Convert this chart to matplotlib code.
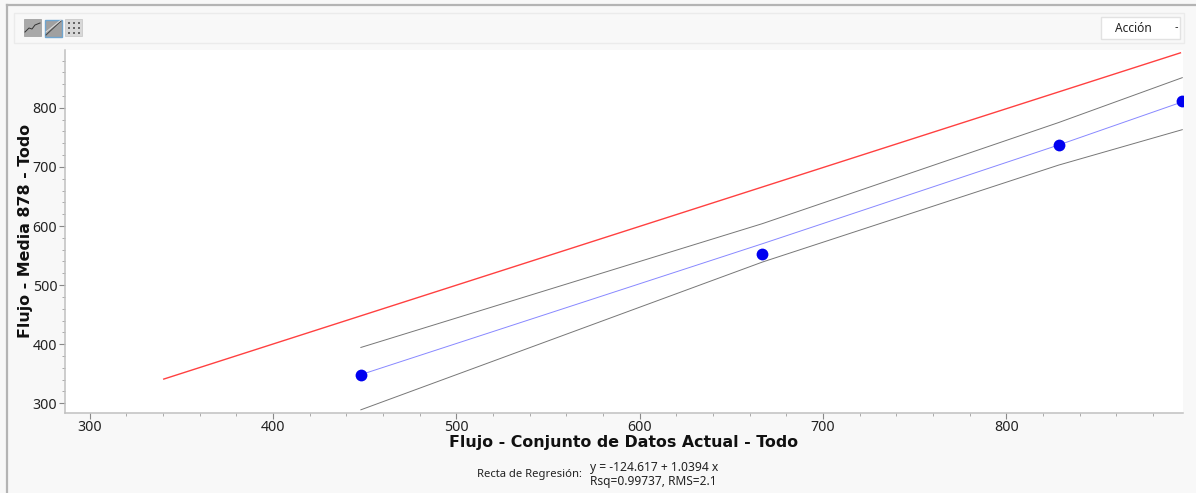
import matplotlib
matplotlib.use('Agg')
import matplotlib.pyplot as plt
from matplotlib.patches import Rectangle

W, H = 1196, 493

# data
puntos_x = [448, 667, 828.5, 896]
puntos_y = [348.5, 553, 737, 812]
recta_x = [448, 667, 828.5, 896]
recta_y = [348.5, 570, 737, 810]
ref_x = [340.5, 895]
ref_y = [341, 893]
sup_x = [448, 667, 828.5, 896]
sup_y = [394.5, 604, 775, 851]
inf_x = [448, 667, 828.5, 896]
inf_y = [289, 539, 703, 763]
xticks = [300, 400, 500, 600, 700, 800]
yticks = [300, 400, 500, 600, 700, 800]
xminor = [x for x in range(300, 900, 20) if x % 100]
yminor = [y for y in range(300, 900, 20) if y % 100]

fig = plt.figure(figsize=(W / 100, H / 100), dpi=100, facecolor='#f8f8f8')

# marco y barra de herramientas, en pixeles
bg = fig.add_axes([0, 0, 1, 1])
bg.set_xlim(0, W)
bg.set_ylim(H, 0)
bg.axis('off')
bg.plot([6.5, 6.5], [5, H], color='#b4b4b4', lw=1.6)
bg.plot([6.5, W], [5, 5], color='#b4b4b4', lw=1.6)
bg.add_patch(Rectangle((13.5, 12.5), 1170, 30, fc='#f8f8f8', ec='#ebebeb', lw=1))
bg.add_patch(Rectangle((24, 19), 17, 17, fc='#a8a8a8', ec='#999999', lw=0.5))
bg.plot([25, 29, 32, 35, 40], [32, 28, 29, 25, 23], color='#333333', lw=0.7)
bg.add_patch(Rectangle((45, 19.5), 17, 17, fc='#a0a0a0', ec='#6fa5cf', lw=1))
bg.plot([46, 61], [35, 21], color='#444444', lw=0.7)
bg.plot([46, 61], [32, 20], color='#dddddd', lw=0.7)
bg.add_patch(Rectangle((65, 19), 17, 17, fc='#d8d8d8', ec='#c4c4c4', lw=0.5))
for fila in [23, 28, 33]:
    for col in [69, 74, 79]:
        bg.add_patch(Rectangle((col - 1, fila - 1), 2, 2, fc='#666666', ec='none'))
bg.add_patch(Rectangle((1101, 16.5), 79, 22, fc='white', ec='#e2e2e2', lw=1))
bg.text(1133.5, 28, 'Acción', ha='center', va='center', fontsize=8.6,
        family='Noto Sans', color='#222222')
bg.text(1176, 27, '-', ha='center', va='center', fontsize=7, color='#222222')
bg.add_patch(Rectangle((65, 50), 1118, 363, fc='white', ec='none'))

# grafica
x0 = 300 - (89.5 - 65) / 1.8335
x1 = x0 + (1183 - 65) / 1.8335
y0 = 283.6
y1 = y0 + (413 - 50) / 0.591
ax = fig.add_axes([65 / W, 1 - 413 / H, (1183 - 65) / W, 363 / H])
ax.patch.set_alpha(0)
ax.set_xlim(x0, x1)
ax.set_ylim(y0, y1)

ax.plot(ref_x, ref_y, color='#ff4040', lw=1.0)
ax.plot(sup_x, sup_y, color='#777777', lw=0.7)
ax.plot(inf_x, inf_y, color='#777777', lw=0.7)
ax.plot(recta_x, recta_y, color='#8888ff', lw=0.7)
ax.plot(puntos_x, puntos_y, 'o', color='#0000f0', ms=8.5, mew=0, zorder=5)

for lado in ['top', 'right']:
    ax.spines[lado].set_visible(False)
for lado in ['left', 'bottom']:
    ax.spines[lado].set_color('#c0c0c0')
    ax.spines[lado].set_linewidth(1.1)

ax.set_xticks(xticks)
ax.set_yticks(yticks)
ax.set_xticks(xminor, minor=True)
ax.set_yticks(yminor, minor=True)
ax.tick_params(axis='x', which='major', length=4, width=0.8, color='#888888',
               labelsize=10.2, labelcolor='#222222', pad=1)
ax.tick_params(axis='y', which='major', length=4, width=0.8, color='#888888',
               labelsize=10.2, labelcolor='#222222', pad=1.5)
ax.tick_params(axis='both', which='minor', length=2, width=0.7, color='#aaaaaa')
for t in ax.get_xticklabels() + ax.get_yticklabels():
    t.set_family('Noto Sans')

bg.text(624, 442.5, 'Flujo - Conjunto de Datos Actual - Todo', ha='center', va='center',
        fontsize=11.4, fontweight='bold', family='DejaVu Sans', color='#111111')
bg.text(26, 231, 'Flujo - Media 878 - Todo', ha='center', va='center', rotation=90,
        fontsize=11.4, fontweight='bold', family='DejaVu Sans', color='#111111')

# ecuacion de la recta
bg.text(477, 474.5, 'Recta de Regresión:', ha='left', va='center', fontsize=8.1,
        family='Noto Sans', color='#222222')
bg.text(589.5, 467.5, 'y = -124.617 + 1.0394 x', ha='left', va='center', fontsize=8.7,
        family='Noto Sans', color='#222222')
bg.text(589.5, 481.5, 'Rsq=0.99737, RMS=2.1', ha='left', va='center', fontsize=8.6,
        family='Noto Sans', color='#222222')

fig.savefig('out.png', dpi=100, facecolor=fig.get_facecolor())
